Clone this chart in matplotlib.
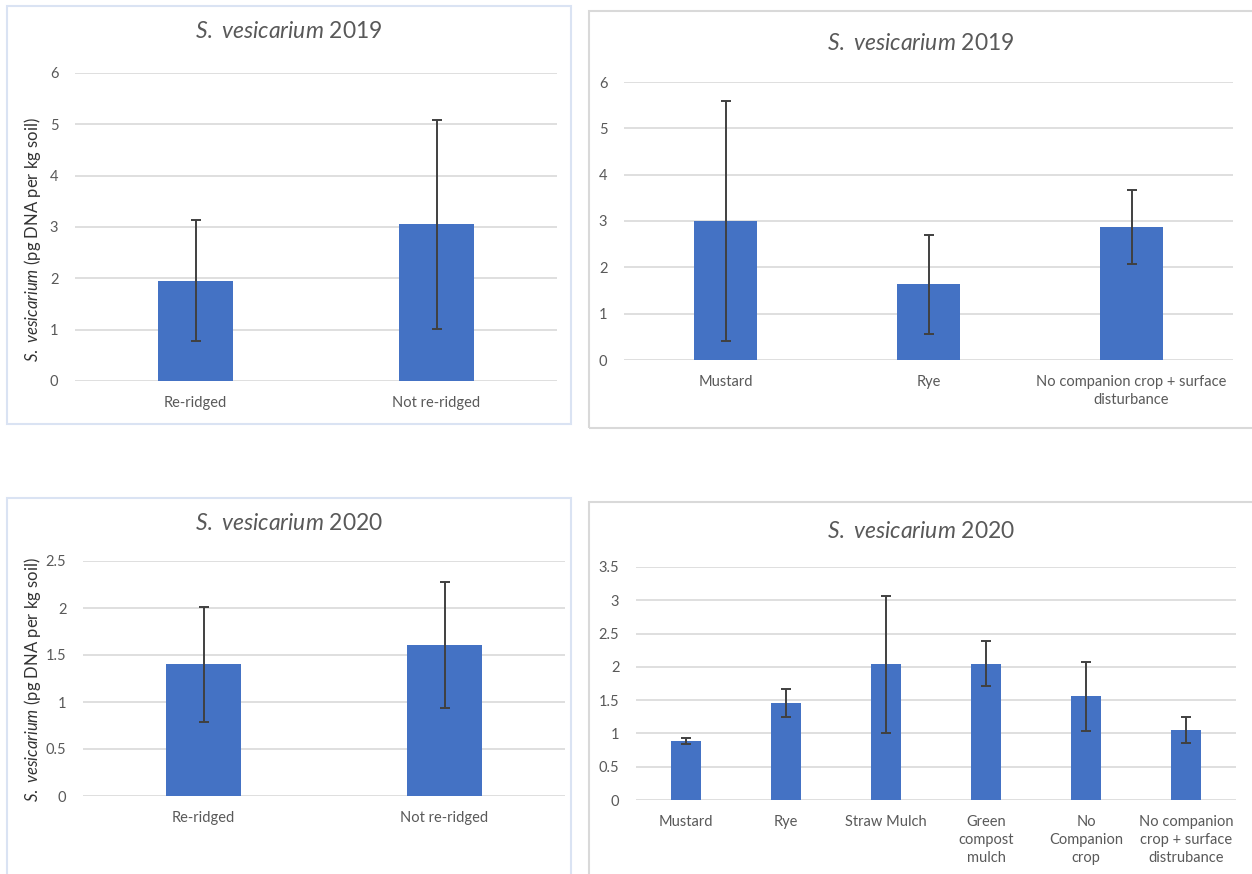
import matplotlib
matplotlib.use("Agg")
import matplotlib.pyplot as plt
from matplotlib.patches import Rectangle
import numpy as np

plt.rcParams["font.family"] = ["Lato", "DejaVu Sans"]
plt.rcParams["mathtext.fontset"] = "custom"
plt.rcParams["mathtext.rm"] = "Lato"
plt.rcParams["mathtext.it"] = "Lato:italic"

# ---- data ----
ridge_cats = ["Re-ridged", "Not re-ridged"]
ridge_2019 = [1.95, 3.05]
ridge_2019_err = [1.18, 2.03]
ridge_2020 = [1.40, 1.61]
ridge_2020_err = [0.61, 0.67]

crop_cats_2019 = ["Mustard", "Rye", "No companion crop + surface\ndisturbance"]
crop_2019 = [3.01, 1.63, 2.87]
crop_2019_err = [2.59, 1.07, 0.79]

crop_cats_2020 = ["Mustard", "Rye", "Straw Mulch", "Green\ncompost\nmulch",
                  "No\nCompanion\ncrop", "No companion\ncrop + surface\ndistrubance"]
crop_2020 = [0.88, 1.45, 2.04, 2.05, 1.56, 1.05]
crop_2020_err = [0.045, 0.21, 1.03, 0.345, 0.52, 0.19]

W, H = 1252, 874
BAR = "#4472C4"
GRID = "#D9D9D9"
TXT = "#595959"
ERR = "#404040"
SPECIES = r"$\mathit{S.}$ $\mathit{vesicarium}$"

fig = plt.figure(figsize=(W / 100, H / 100), dpi=100)
fig.patch.set_facecolor("white")


def px_axes(l, t, r, b):
    return fig.add_axes([l / W, 1 - b / H, (r - l) / W, (b - t) / H])


def frame(l, t, r, b, color):
    fig.patches.append(Rectangle((l / W, 1 - b / H), (r - l) / W, (b - t) / H,
                                 transform=fig.transFigure, fill=False,
                                 edgecolor=color, linewidth=1.5, clip_on=False))


def title(x, y, year):
    fig.text(x / W, 1 - y / H, SPECIES + " " + year,
             ha="center", va="center", fontsize=16.5, color=TXT)


def ylabel(y):
    fig.text(33 / W, 1 - y / H, SPECIES + " (pg DNA per kg soil)",
             rotation=90, ha="center", va="center", fontsize=12, color="#333333")


def panel(box, cats, vals, errs, ymax, ystep, width):
    ax = px_axes(*box)
    x = np.arange(len(cats))
    ax.bar(x, vals, width=width, color=BAR, zorder=2)
    ax.errorbar(x, vals, yerr=errs, fmt="none", ecolor=ERR, elinewidth=1.4,
                capsize=3.5, capthick=1.4, zorder=3)
    ax.set_xlim(-0.5, len(cats) - 0.5)
    ax.set_ylim(0, ymax)
    ticks = np.arange(0, ymax + ystep / 2, ystep)
    ax.set_yticks(ticks)
    ax.set_yticklabels([f"{t:g}" for t in ticks])
    ax.set_xticks(x)
    ax.set_xticklabels(cats, linespacing=1.35)
    ax.yaxis.grid(True, color=GRID, linewidth=1.2, zorder=0)
    ax.set_axisbelow(True)
    for s in ax.spines.values():
        s.set_visible(False)
    ax.tick_params(axis="both", length=0, colors=TXT, labelsize=10.5)
    ax.tick_params(axis="x", pad=11)
    ax.tick_params(axis="y", pad=12)
    ax.set_facecolor("none")
    return ax


# panel frames
frame(7, 6, 571, 424, "#DAE3F3")
frame(589, 11, 1262, 428, GRID)
frame(7, 498, 571, 890, "#DAE3F3")
frame(589, 502, 1262, 890, GRID)

# top-left: ridging 2019
panel((75, 73, 557, 381), ridge_cats, ridge_2019, ridge_2019_err, 6, 1, 0.315)
title(289, 32, "2019")
ylabel(240)

# top-right: companion crops 2019
panel((624, 82, 1233, 360), crop_cats_2019, crop_2019, crop_2019_err, 6, 1, 0.31)
title(921, 43, "2019")

# bottom-left: ridging 2020
panel((83, 561, 565, 796), ridge_cats, ridge_2020, ridge_2020_err, 2.5, 0.5, 0.31)
title(289, 523, "2020")
ylabel(680)

# bottom-right: companion crops 2020
panel((636, 567, 1236, 800), crop_cats_2020, crop_2020, crop_2020_err, 3.5, 0.5, 0.30)
title(921, 531, "2020")

fig.savefig("out.png", dpi=100, facecolor="white")
